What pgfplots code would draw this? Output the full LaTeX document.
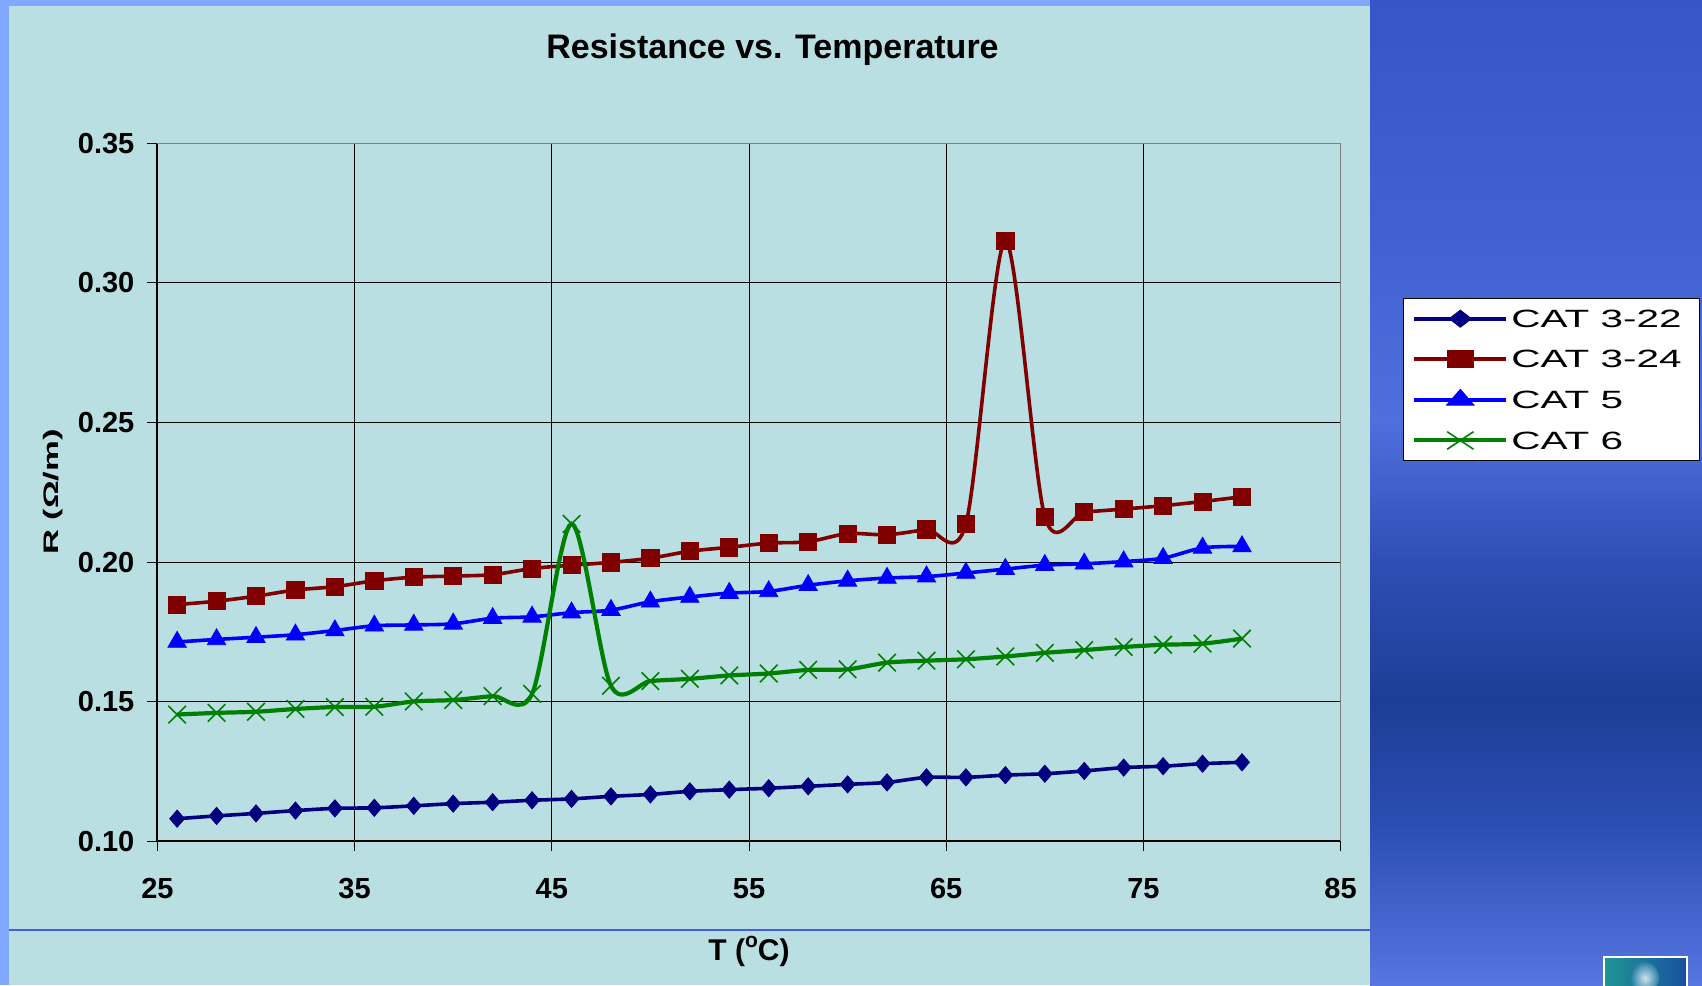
\documentclass[border=0pt]{standalone}
\usepackage{pgfplots}
\usepackage{pgfplotstable}
\pgfplotsset{compat=1.18}
\usepackage{graphicx}
\usepackage{fontspec}
\setmainfont{Liberation Sans}

\definecolor{chartbg}{HTML}{B9DFE2}
\definecolor{slidelight}{HTML}{80A8FF}
\definecolor{catA}{HTML}{000080}
\definecolor{catB}{HTML}{800000}
\definecolor{catC}{HTML}{0000FF}
\definecolor{catD}{HTML}{008000}
\definecolor{framegray}{HTML}{808080}
\definecolor{rulecol}{HTML}{3F5FDF}
\definecolor{bgA}{HTML}{3656C6}
\definecolor{bgB}{HTML}{4262D2}
\definecolor{bgC}{HTML}{4F6FDD}
\definecolor{bgD}{HTML}{2E4FB5}
\definecolor{bgE}{HTML}{1D3E96}
\definecolor{bgF}{HTML}{2A4DB2}
\definecolor{bgG}{HTML}{5676E0}

% Resistance per metre (Ohm/m) against temperature (deg C)
\pgfplotstableread{
T   c322    c324    c5      c6
26  0.1081  0.1848  0.1714  0.1454
28  0.1091  0.1860  0.1723  0.1460
30  0.1100  0.1878  0.1731  0.1464
32  0.1110  0.1900  0.1740  0.1474
34  0.1118  0.1912  0.1755  0.1481
36  0.1120  0.1933  0.1772  0.1482
38  0.1127  0.1946  0.1775  0.1501
40  0.1135  0.1950  0.1779  0.1506
42  0.1140  0.1955  0.1799  0.1520
44  0.1147  0.1977  0.1804  0.1528
46  0.1152  0.1989  0.1819  0.2137
48  0.1161  0.1999  0.1828  0.1557
50  0.1168  0.2014  0.1858  0.1574
52  0.1179  0.2039  0.1875  0.1582
54  0.1185  0.2053  0.1889  0.1594
56  0.1190  0.2068  0.1895  0.1601
58  0.1197  0.2073  0.1917  0.1614
60  0.1204  0.2102  0.1933  0.1616
62  0.1211  0.2098  0.1943  0.1640
64  0.1229  0.2117  0.1948  0.1647
66  0.1229  0.2137  0.1961  0.1652
68  0.1237  0.3151  0.1975  0.1662
70  0.1242  0.2163  0.1989  0.1675
72  0.1252  0.2179  0.1994  0.1685
74  0.1264  0.2190  0.2002  0.1696
76  0.1269  0.2202  0.2014  0.1704
78  0.1278  0.2217  0.2051  0.1708
80  0.1283  0.2234  0.2056  0.1726
}\resdata

\begin{document}
\begin{tikzpicture}[x=0.5pt,y=-0.5pt]
% slide background
\fill[slidelight] (0,0) rectangle (1702,985);
\shade[top color=bgA, bottom color=bgB] (1370,-1) rectangle (1702,251);
\shade[top color=bgB, bottom color=bgC] (1370,250) rectangle (1702,421);
\shade[top color=bgC, bottom color=bgD] (1370,420) rectangle (1702,561);
\shade[top color=bgD, bottom color=bgE] (1370,560) rectangle (1702,701);
\shade[top color=bgE, bottom color=bgF] (1370,700) rectangle (1702,821);
\shade[top color=bgF, bottom color=bgG] (1370,820) rectangle (1702,986);
% chart area
\fill[chartbg] (9,6) rectangle (1370,985);
\draw[rulecol, line width=1pt] (9,930) -- (1370,930);
% corner logo
\shade[left color={rgb,255:red,30;green,150;blue,150}, right color={rgb,255:red,25;green,80;blue,160}] (1604,957) rectangle (1687,986);
\shade[inner color=white, outer color={rgb,255:red,40;green,130;blue,170}, opacity=0.8] (1645,978) ellipse (14 and 16);
\draw[white, line width=0.8pt] (1604,986) -- (1604,957) -- (1687,957) -- (1687,986);

\begin{axis}[
  at={(78.7pt,-420.65pt)}, anchor=south west,
  scale only axis, width=591.6pt, height=349pt,
  xmin=25, xmax=85, ymin=0.10, ymax=0.35,
  xtick={25,35,45,55,65,75,85},
  ytick={0.10,0.15,0.20,0.25,0.30,0.35},
  axis x line*=bottom, axis y line*=left,
  axis line style={black, line width=1pt},
  tick align=outside, major tick length=5pt,
  tick style={black, line width=0.5pt},
  grid=major, major grid style={black, line width=0.5pt},
  /pgf/number format/assume math mode=true,
  ticklabel style={font=\fontsize{14.5}{16}\selectfont\bfseries},
  xticklabel style={yshift=-10pt},
  yticklabel style={xshift=-3pt, /pgf/number format/.cd, fixed, fixed zerofill, precision=2},
  legend style={at={(1.0525,0.7784)}, anchor=north west, draw=black,
    fill=white, font=\fontsize{12.5}{15}\selectfont,
    inner xsep=4.6pt, inner ysep=0pt, column sep=1.5pt,
    nodes={inner sep=0pt, text height=14.5pt, text depth=5.8pt}},
  legend cell align=left,
  legend image code/.code={\draw[mark repeat=2, mark phase=2, #1, line width=2pt,
    every mark/.append style={xscale=1.5}]
    plot coordinates {(0pt,0pt) (23pt,0pt) (46pt,0pt)};},
  clip=false,
]
\draw[framegray, line width=0.75pt] (rel axis cs:0,1) -- (rel axis cs:1,1) -- (rel axis cs:1,0);

\addplot[catA, line width=1.8pt, smooth, mark=diamond*, mark size=4.3pt,
  mark options={solid, fill=catA, line width=0.4pt, xscale=1.15}]
  table[x=T, y=c322] {\resdata};
\addlegendentry{\scalebox{1.62}[1]{CAT 3-22}\rule{4.3pt}{0pt}}

\addplot[catB, line width=1.8pt, smooth, mark=square*, mark size=4.3pt,
  mark options={solid, fill=catB, line width=0.4pt}]
  table[x=T, y=c324] {\resdata};
\addlegendentry{\scalebox{1.62}[1]{CAT 3-24}\rule{4.3pt}{0pt}}

\addplot[catC, line width=1.8pt, smooth, mark=triangle*, mark size=5.3pt,
  mark options={solid, fill=catC, line width=0.4pt}]
  table[x=T, y=c5] {\resdata};
\addlegendentry{\scalebox{1.62}[1]{CAT 5}}

\addplot[catD, line width=2.1pt, smooth, mark=x, mark size=6.2pt,
  mark options={solid, line width=0.8pt}]
  table[x=T, y=c6] {\resdata};
\addlegendentry{\scalebox{1.62}[1]{CAT 6}}
\end{axis}

\node[anchor=base, font=\fontsize{17}{20}\selectfont\bfseries] at (772.5,58.3) {Resistance vs. Temperature};
\node[anchor=base, font=\fontsize{15}{18}\selectfont\bfseries] at (749,960) {T (\raisebox{0.42em}{\fontsize{10.5}{10.5}\selectfont o}C)};
\node[anchor=base, rotate=90, font=\fontsize{10.5}{12}\selectfont\bfseries] at (58,492) {\scalebox{1.65}[1]{R (Ω/m)}};

\pgfresetboundingbox
\useasboundingbox (0,0) rectangle (1702,985);
\end{tikzpicture}
\end{document}
